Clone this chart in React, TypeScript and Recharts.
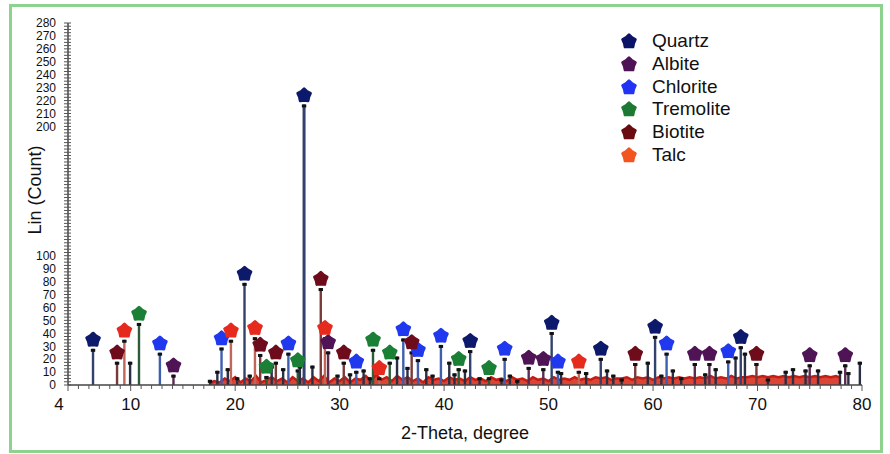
import React from "react";
import { ComposedChart, XAxis, YAxis, Bar, Scatter, Area, Label } from "recharts";

type Phase = "quartz" | "albite" | "chlorite" | "tremolite" | "biotite" | "talc" | "other";

// peaks as [2-theta, counts]
const quartzPeaks = [[6.4, 28], [20.9, 79], [26.6, 217], [42.5, 27], [50.3, 41], [55.0, 21], [60.2, 38], [68.4, 30]];
const albitePeaks = [[14.1, 8], [28.9, 26], [48.1, 14], [49.5, 13], [64.0, 17], [65.4, 17], [75.0, 16], [78.4, 16]];
const chloritePeaks = [[12.8, 25], [18.7, 29], [25.1, 25], [31.6, 11], [36.1, 36], [37.5, 20], [39.7, 31], [45.8, 21], [50.9, 11], [61.3, 25], [67.2, 19]];
const tremolitePeaks = [[10.8, 48], [23.0, 7], [26.0, 12], [33.2, 28], [34.8, 18], [41.4, 13], [44.3, 6]];
const biotitePeaks = [[8.7, 18], [22.4, 24], [23.9, 18], [28.2, 75], [30.4, 18], [36.9, 26], [58.3, 17], [69.9, 17]];
const talcPeaks = [[9.4, 35], [19.6, 35], [21.9, 37], [28.6, 37], [33.8, 6], [52.9, 11]];
const otherPeaks = [
  [9.95, 18], [17.6, 4], [18.3, 11], [19.3, 13], [20.2, 6], [21.4, 8], [23.5, 15], [24.6, 13], [26.2, 15],
  [27.4, 15], [29.8, 8], [31.0, 9], [32.3, 12], [32.9, 6], [35.5, 22], [36.5, 14], [38.3, 13], [38.9, 8],
  [40.5, 18], [41.0, 9], [42.0, 12], [43.4, 6], [45.5, 5], [46.3, 8], [47.0, 4], [51.2, 10], [53.6, 10],
  [55.6, 12], [56.2, 8], [57.0, 5], [59.5, 18], [60.8, 8], [61.9, 12], [62.7, 6], [65.0, 9], [66.0, 13],
  [67.9, 22], [68.8, 25], [71.0, 5], [72.7, 11], [73.4, 13], [74.6, 12], [75.8, 12], [77.9, 11], [78.7, 10], [79.8, 18],
];

// background trace (noisy red band near the baseline)
const backgroundTrace = [
  [17.5, 1], [18, 3], [18.5, 2], [19, 5], [19.5, 3], [20, 6], [20.5, 2], [21, 5], [21.5, 3], [22, 7], [22.5, 2],
  [23, 4], [23.5, 6], [24, 3], [24.5, 5], [25, 2], [25.5, 6], [26, 3], [26.5, 5], [27, 2], [27.5, 6], [28, 3],
  [28.5, 7], [29, 2], [29.5, 5], [30, 3], [30.5, 6], [31, 2], [31.5, 5], [32, 4], [32.5, 7], [33, 3], [33.5, 8],
  [34, 4], [34.5, 6], [35, 3], [35.5, 7], [36, 4], [36.5, 6], [37, 3], [37.5, 5], [38, 2], [38.5, 6], [39, 4],
  [39.5, 5], [40, 3], [40.5, 6], [41, 4], [41.5, 5], [42, 3], [42.5, 6], [43, 4], [43.5, 5], [44, 3], [44.5, 6],
  [45, 4], [45.5, 5], [46, 3], [46.5, 6], [47, 4], [47.5, 5], [48, 3], [48.5, 6], [49, 4], [49.5, 5], [50, 3],
  [50.5, 6], [51, 4], [51.5, 5], [52, 4], [52.5, 6], [53, 4], [53.5, 5], [54, 4], [54.5, 6], [55, 5], [55.5, 6],
  [56, 4], [56.5, 5], [57, 5], [57.5, 6], [58, 4], [58.5, 6], [59, 5], [59.5, 6], [60, 4], [60.5, 6], [61, 5],
  [61.5, 6], [62, 5], [62.5, 6], [63, 5], [63.5, 6], [64, 5], [64.5, 6], [65, 5], [65.5, 7], [66, 5], [66.5, 6],
  [67, 5], [67.5, 7], [68, 5], [68.5, 6], [69, 6], [69.5, 7], [70, 6], [70.5, 7], [71, 6], [71.5, 7], [72, 6],
  [72.5, 7], [73, 6], [73.5, 7], [74, 6], [74.5, 7], [75, 6], [75.5, 7], [76, 6], [76.5, 7], [77, 6], [77.5, 7], [77.8, 6],
];

const xLabelTicks = [4, 10, 20, 30, 40, 50, 60, 70, 80];
const yLabelTicks = [0, 10, 20, 30, 40, 50, 60, 70, 80, 90, 100, 200, 210, 220, 230, 240, 250, 260, 270, 280];

const xTicks = Array.from({ length: 77 }, (_, i) => 4 + i);
const yTicks = Array.from({ length: 113 }, (_, i) => i * 2.5);

const PHASES: { key: Phase; name: string; peaks: number[][]; marker: string; legend: string; stick: string }[] = [
  { key: "quartz", name: "Quartz", peaks: quartzPeaks, marker: "#0d1a6c", legend: "#0b1466", stick: "#33416e" },
  { key: "albite", name: "Albite", peaks: albitePeaks, marker: "#4f1456", legend: "#4e1257", stick: "#5c2c50" },
  { key: "chlorite", name: "Chlorite", peaks: chloritePeaks, marker: "#2038ee", legend: "#2233f5", stick: "#3f5fae" },
  { key: "tremolite", name: "Tremolite", peaks: tremolitePeaks, marker: "#1b8036", legend: "#1c7a32", stick: "#2d5c39" },
  { key: "biotite", name: "Biotite", peaks: biotitePeaks, marker: "#6e0c1c", legend: "#6a0b12", stick: "#7a3a3a" },
  { key: "talc", name: "Talc", peaks: talcPeaks, marker: "#e62a1e", legend: "#f2551f", stick: "#c0675a" },
];

const STICK_COLOR: Record<string, string> = { other: "#2a2f45" };
PHASES.forEach((p) => (STICK_COLOR[p.key] = p.stick));

const stickRows = [
  ...PHASES.flatMap((p) => p.peaks.map(([t, v]) => ({ t, v, phase: p.key }))),
  ...otherPeaks.map(([t, v]) => ({ t, v, phase: "other" })),
].sort((a, b) => a.t - b.t);

const traceRows = backgroundTrace.map(([t, v]) => ({ t, v }));

const FONT = "'Liberation Sans', Arial, sans-serif";

// five-lobed "flower" marker
function flowerPath(cx: number, cy: number, R: number, r: number) {
  let d = "";
  for (let i = 0; i < 10; i++) {
    const a = -Math.PI / 2 + (i * Math.PI) / 5;
    const rad = i % 2 === 0 ? R : r;
    d += (i ? "L" : "M") + (cx + rad * Math.cos(a)).toFixed(2) + "," + (cy + rad * Math.sin(a)).toFixed(2);
  }
  return d + "Z";
}

const Stick = (props: any) => {
  const { x, y, width, height, payload } = props;
  if (!payload || !height || height <= 0) return null;
  const cx = x + width / 2;
  const w = payload.v > 100 ? 3 : 2.4;
  return (
    <g>
      <rect x={cx - w / 2} y={y} width={w} height={height} fill={STICK_COLOR[payload.phase]} />
      <rect x={cx - 2.2} y={y} width={4.4} height={3} fill="#111" />
    </g>
  );
};

const makeMarker = (color: string) => (props: any) => {
  const { cx, cy } = props;
  if (cx == null || cy == null) return null;
  return (
    <path
      d={flowerPath(cx, cy - 9, 6.6, 4.9)}
      fill={color}
      stroke={color}
      strokeWidth={3}
      strokeLinejoin="round"
    />
  );
};

const XTick = (props: any) => {
  const { x, y, payload } = props;
  const v = payload.value;
  const major = xLabelTicks.includes(v);
  return (
    <g>
      <line x1={x} x2={x} y1={y} y2={y + (major ? 6 : 4)} stroke="#555" strokeWidth={1} />
      {major && (
        <text x={v === 4 ? x - 9 : x} y={y + 25} textAnchor="middle" fontSize={17} fontFamily={FONT} fill="#111">
          {v}
        </text>
      )}
    </g>
  );
};

const YTick = (props: any) => {
  const { x, y, payload } = props;
  const v = payload.value;
  return (
    <g>
      <line x1={x - 4} x2={x + 3} y1={y} y2={y} stroke="#555" strokeWidth={1} />
      {yLabelTicks.includes(v) && (
        <text x={x - 12} y={y + 4.3} textAnchor="end" fontSize={12} fontFamily={FONT} fill="#111">
          {v}
        </text>
      )}
    </g>
  );
};

export default function App() {
  return (
    <div style={{ position: "absolute", left: 0, top: 0, width: 890, height: 454, background: "#fff" }}>
      <div
        style={{
          position: "absolute",
          left: 9,
          top: 4,
          width: 874,
          height: 449,
          border: "3px solid #8fd18f",
          boxSizing: "border-box",
        }}
      />
      <ComposedChart
        width={890}
        height={454}
        data={stickRows}
        margin={{ top: 23, right: 28, bottom: 0, left: 0 }}
        style={{ position: "absolute", left: 0, top: 0 }}
      >
        <XAxis
          dataKey="t"
          type="number"
          domain={[4, 80]}
          ticks={xTicks}
          interval={0}
          allowDataOverflow
          height={69}
          tickSize={0}
          tickMargin={0}
          tick={<XTick />}
          axisLine={{ stroke: "#444", strokeWidth: 1.5 }}
        >
          <Label
            content={(p: any) => {
              const vb = p.viewBox;
              return (
                <text x={vb.x + vb.width / 2} y={vb.y + 54} textAnchor="middle" fontSize={18} fontFamily={FONT} fill="#111">
                  2-Theta, degree
                </text>
              );
            }}
          />
        </XAxis>
        <YAxis
          dataKey="v"
          type="number"
          domain={[0, 280]}
          ticks={yTicks}
          interval={0}
          allowDataOverflow
          width={68}
          tickSize={0}
          tickMargin={0}
          tick={<YTick />}
          axisLine={{ stroke: "#444", strokeWidth: 1.5 }}
        >
          <Label
            content={() => {
              const cy = 190;
              return (
                <text
                  x={41}
                  y={cy}
                  transform={`rotate(-90 41 ${cy})`}
                  textAnchor="middle"
                  fontSize={18}
                  fontFamily={FONT}
                  fill="#111"
                >
                  Lin (Count)
                </text>
              );
            }}
          />
        </YAxis>
        <Area
          data={traceRows}
          dataKey="v"
          type="linear"
          stroke="#c41d12"
          strokeWidth={2.5}
          fill="#d8301f"
          fillOpacity={0.9}
          isAnimationActive={false}
          legendType="none"
        />
        <Bar dataKey="v" stackId="s" barSize={3} shape={<Stick />} isAnimationActive={false} legendType="none" />
        {PHASES.map((p) => (
          <Scatter
            key={p.key}
            name={p.name}
            data={p.peaks.map(([t, v]) => ({ t, v }))}
            dataKey="v"
            shape={makeMarker(p.marker)}
            isAnimationActive={false}
          />
        ))}
      </ComposedChart>
      <div style={{ position: "absolute", left: 620, top: 30, fontFamily: FONT, fontSize: 19, color: "#111" }}>
        {PHASES.map((p) => (
          <div key={p.key} style={{ height: 22.7, display: "flex", alignItems: "center" }}>
            <svg width={18} height={18} style={{ marginRight: 14 }}>
              <path d={flowerPath(9, 9.5, 6.6, 4.9)} fill={p.legend} stroke={p.legend} strokeWidth={3} strokeLinejoin="round" />
            </svg>
            <span>{p.name}</span>
          </div>
        ))}
      </div>
    </div>
  );
}
